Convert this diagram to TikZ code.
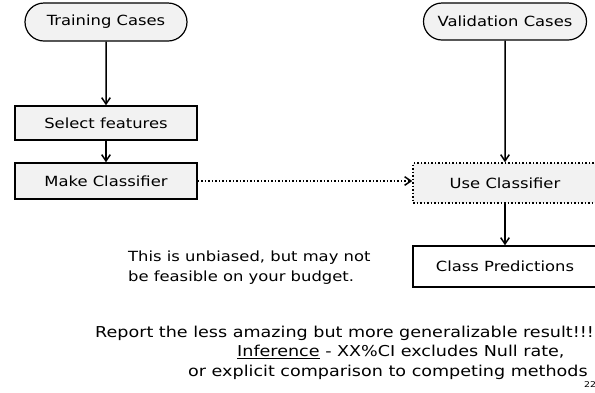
\documentclass[tikz,border=0pt]{standalone}
\usepackage{fontspec}
\setmainfont[FakeStretch=1.17]{DejaVu Sans}
\usetikzlibrary{positioning,arrows.meta,shapes.misc}

\begin{document}
\begin{tikzpicture}[x=1pt, y=-1pt,
            every node/.style={font=\fontsize{14}{20}\selectfont},
            cases/.style={rounded rectangle, draw, line width=1.2pt, fill=black!5, minimum width=162pt, minimum height=38pt, inner sep=0pt},
            stepbox/.style={rectangle, draw, line width=1.5pt, fill=black!5, minimum width=182pt, inner sep=0pt},
            usebox/.style={rectangle, draw, dotted, line width=1.5pt, fill=black!5, minimum width=184pt, minimum height=40pt, inner sep=0pt},
            outbox/.style={rectangle, draw, line width=1.5pt, fill=white, minimum width=184pt, minimum height=41pt, inner sep=0pt},
            arrow/.style={-{Straight Barb[length=2.2mm, width=3mm]}, line width=1.5pt},
            note/.style={align=left, anchor=west, inner sep=0pt},
            remark/.style={note, font=\fontsize{15}{20}\selectfont}
        ]
            \useasboundingbox (0,0) rectangle (595,392);
            \clip (0,0) rectangle (595,392);
            \node[cases] (train) at (106,22) {Training Cases};
            \node[stepbox, minimum height=34pt] (select) at (106,123) {Select features};
            \node[stepbox, minimum height=36pt] (make) at (106,181) {Make Classifier};
            \node[cases, minimum width=163pt, minimum height=37pt] (valid) at (505,21.5) {Validation Cases};
            \node[usebox] (use) at (505,183) {Use Classifier};
            \node[outbox] (pred) at (505,266.5) {Class Predictions};
            \draw[arrow] (train) -- (select);
            \draw[arrow] (select) -- (make);
            \draw[arrow] (valid) -- (use);
            \draw[arrow] (use) -- (pred);
            \draw[arrow, dotted] (make.east) -- (make.east -| use.west);
            \node[note] (budget) at (128,268) {This is unbiased, but may not\\be feasible on your budget.};
            \node[remark] (report) at (95,333) {Report the less amazing but more generalizable result!!!};
            \node[remark] (infer) at (237,352) {\underline{Inference} - XX\%CI excludes Null rate,};
            \node[remark] (compare) at (188,372) {or explicit comparison to competing methods};
            \node[anchor=west, inner sep=0pt, font=\fontsize{8}{8}\selectfont] (page) at (584,385) {22};
        \end{tikzpicture}
\end{document}
